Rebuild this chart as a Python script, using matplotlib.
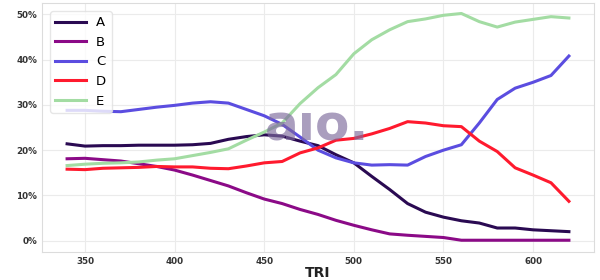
import matplotlib
matplotlib.use("Agg")
import matplotlib.pyplot as plt
import matplotlib.ticker as mticker

# TRI bins
tri = [340, 350, 360, 370, 380, 390, 400, 410, 420, 430, 440, 450, 460, 470, 480,
       490, 500, 510, 520, 530, 540, 550, 560, 570, 580, 590, 600, 610, 620]

# share per group (%)
a_vals = [21.4, 20.9, 21.0, 21.0, 21.1, 21.1, 21.1, 21.2, 21.5, 22.4, 23.0, 23.4, 23.1,
          22.0, 21.0, 19.0, 17.2, 14.2, 11.3, 8.2, 6.3, 5.2, 4.4, 3.9, 2.8, 2.8, 2.4, 2.2, 2.0]
b_vals = [18.1, 18.2, 17.9, 17.6, 17.0, 16.4, 15.6, 14.5, 13.3, 12.1, 10.6, 9.2, 8.2,
          6.9, 5.8, 4.5, 3.4, 2.4, 1.5, 1.2, 0.95, 0.7, 0.1, 0.1, 0.1, 0.1, 0.1, 0.1, 0.1]
c_vals = [28.8, 28.8, 28.6, 28.5, 29.0, 29.5, 29.9, 30.4, 30.7, 30.4, 29.0, 27.6, 25.7,
          22.9, 20.0, 18.3, 17.2, 16.7, 16.8, 16.7, 18.6, 20.0, 21.2, 26.0, 31.2, 33.7,
          35.0, 36.5, 40.8]
d_vals = [15.8, 15.7, 16.0, 16.1, 16.2, 16.4, 16.3, 16.3, 16.0, 15.9, 16.5, 17.2, 17.5,
          19.4, 20.5, 22.2, 22.6, 23.6, 24.8, 26.3, 26.0, 25.4, 25.2, 22.0, 19.7, 16.1,
          14.5, 12.8, 8.7]
e_vals = [16.6, 16.9, 17.1, 17.2, 17.4, 17.8, 18.1, 18.8, 19.5, 20.3, 22.2, 24.0, 26.0,
          30.3, 33.8, 36.7, 41.3, 44.4, 46.6, 48.4, 49.0, 49.8, 50.2, 48.4, 47.2, 48.3,
          48.9, 49.5, 49.2]

series = [("A", a_vals, "#2a0a52"), ("B", b_vals, "#8b0a87"), ("C", c_vals, "#5b4de0"),
          ("D", d_vals, "#ff1a2e"), ("E", e_vals, "#a3dca3")]

fig = plt.figure(figsize=(6, 2.8), dpi=100)
ax = fig.add_axes([0.07, 0.1, 0.92, 0.889])

for name, vals, col in series:
    ax.plot(tri, vals, color=col, lw=2.2, label=name)

ax.set_ylim(-2.5, 52.5)
ax.yaxis.set_major_locator(mticker.MultipleLocator(10))
ax.yaxis.set_major_formatter(mticker.FuncFormatter(lambda v, p: f"{v:.0f}%"))
ax.xaxis.set_major_locator(mticker.MultipleLocator(50))

ax.grid(True, color="#ebebeb", lw=0.8)
ax.set_axisbelow(True)
for s in ax.spines.values():
    s.set_color("#dcdcdc")
ax.tick_params(length=0, labelsize=6.3, labelcolor="#333333", pad=3.5)
for lbl in ax.get_xticklabels() + ax.get_yticklabels():
    lbl.set_fontweight("bold")

ax.set_xlabel("TRI", fontsize=10, fontweight="bold", color="#222222", va="baseline")
ax.xaxis.set_label_coords(0.5, -0.1)

ax.legend(loc="upper left", fontsize=9.5, frameon=True, edgecolor="#e0e0e0",
          handlelength=2.3, borderaxespad=0.6)

# watermark
fig.text(0.528, 0.497, "aıo.", fontsize=36, fontweight="bold", color="#7d6a9c",
         alpha=0.65, ha="center", va="baseline", zorder=10)

fig.savefig("out.png", dpi=100)
